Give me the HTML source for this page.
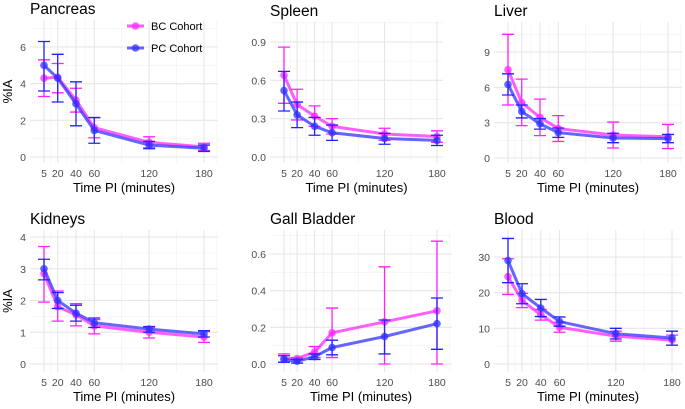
<!DOCTYPE html>
<html><head><meta charset="utf-8"><style>
body{margin:0;background:#fff;font-family:"Liberation Sans",sans-serif}
svg text{font-family:"Liberation Sans",sans-serif}
</style></head><body>
<svg id="chart" width="685" height="404" xmlns="http://www.w3.org/2000/svg"></svg>
<script>
const times=[5,20,40,60,120,180];
const panelNames=["Pancreas","Spleen","Liver","Kidneys","Gall Bladder","Blood"];
const bcMean=[[4.3,4.35,3.1,1.6,0.8,0.55],[0.64,0.41,0.32,0.24,0.18,0.16],[7.5,4.7,3.45,2.5,1.95,1.8],[2.85,1.8,1.55,1.2,1.0,0.85],[0.03,0.03,0.065,0.17,0.23,0.29],[24.5,17.8,13.8,10.3,7.8,6.7]];
const bcLow=[[3.3,3.5,2.45,1.05,0.5,0.35],[0.42,0.29,0.24,0.18,0.13,0.115],[4.5,2.75,1.9,1.4,0.85,0.8],[1.95,1.35,1.2,0.95,0.82,0.68],[0.01,0.025,0.035,0.035,0,0],[19.5,15.8,12.3,8.9,6.4,5.3]];
const bcHigh=[[5.3,5.1,3.75,2.15,1.1,0.75],[0.86,0.53,0.40,0.30,0.225,0.205],[10.5,6.7,5.0,3.6,3.05,2.85],[3.7,2.3,1.9,1.4,1.15,1.02],[0.055,0.035,0.095,0.305,0.53,0.67],[29.5,19.8,15.3,11.7,9.2,8.1]];
const pcMean=[[5.0,4.3,2.9,1.45,0.65,0.48],[0.52,0.33,0.24,0.19,0.145,0.13],[6.25,3.95,2.9,2.15,1.7,1.65],[3.0,2.0,1.6,1.3,1.1,0.95],[0.025,0.015,0.04,0.09,0.15,0.22],[29,19.7,15.7,11.9,8.5,7.3]];
const pcLow=[[3.6,3.0,1.7,0.75,0.45,0.3],[0.36,0.23,0.17,0.13,0.10,0.09],[5.35,3.4,2.45,1.75,1.3,1.3],[2.65,1.75,1.35,1.15,1.0,0.85],[0.01,0.005,0.025,0.05,0.055,0.08],[22.8,16.9,13.3,10.6,7.0,5.3]];
const pcHigh=[[6.3,5.6,4.1,2.15,0.85,0.65],[0.67,0.43,0.31,0.25,0.185,0.17],[7.15,4.5,3.35,2.55,2.1,2.0],[3.3,2.25,1.85,1.45,1.18,1.05],[0.045,0.025,0.055,0.13,0.24,0.36],[35.2,22.5,18.1,13.2,10.0,9.2]];
const yTicks=[[0,2,4,6],[0,0.3,0.6,0.9],[0,3,6,9],[0,1,2,3,4],[0,0.2,0.4,0.6],[0,10,20,30]];
const yTickLabels=[["0","2","4","6"],["0.0","0.3","0.6","0.9"],["0","3","6","9"],["0","1","2","3","4"],["0.0","0.2","0.4","0.6"],["0","10","20","30"]];
const xTicks=[5,20,40,60,120,180];
const xMinor=[-12.5,12.5,30,50,90,150,194];

const geo=[
 {l:30,r:218,t:20,b:163,x5:44,x180:204,y0:157,yRef:47,yRefV:6},
 {l:270,r:443,t:22,b:163,x5:284,x180:437,y0:157,yRef:42,yRefV:0.9},
 {l:494,r:682,t:22,b:163,x5:508,x180:668,y0:158,yRef:52,yRefV:9},
 {l:30,r:218,t:230,b:372,x5:44,x180:204,y0:364,yRef:237,yRefV:4},
 {l:270,r:452,t:230,b:372,x5:284,x180:437,y0:364,yRef:254,yRefV:0.6},
 {l:494,r:682,t:230,b:372,x5:508,x180:672,y0:364,yRef:257,yRefV:30}
];
const svg=document.getElementById('chart');
const NS="http://www.w3.org/2000/svg";
function mk(tag,attrs,parent){const e=document.createElementNS(NS,tag);for(const k in attrs)e.setAttribute(k,attrs[k]);(parent||svg).appendChild(e);return e;}
const BC="rgba(255,40,255,0.75)",PC="rgba(50,50,255,0.75)";
const BCs="#ff22ff",PCs="#2222ff";
geo.forEach((g,p)=>{
 const grp=mk('g',{});
 
 
 const xs=v=>g.x5+(v-5)*(g.x180-g.x5)/175;
 const ys=v=>g.y0-v*(g.y0-g.yRef)/g.yRefV;
 xMinor.forEach(m=>{const x=xs(m);if(x>=g.l&&x<=g.r){const ln=mk('line',{x1:x,x2:x,y1:g.t,y2:g.b,stroke:'#f0f0f0','stroke-width':0.6},grp);}});
 const yt=yTicks[p];const step=yt[1]-yt[0];
 for(let i=-1;i<yt.length+1;i++){const v=yt[0]+step*(i+0.5);const y=ys(v);if(y>=g.t&&y<=g.b){const ln=mk('line',{x1:g.l,x2:g.r,y1:y,y2:y,stroke:'#f0f0f0','stroke-width':0.6},grp);}}
 xTicks.forEach(t=>{const x=xs(t);const ln=mk('line',{x1:x,x2:x,y1:g.t,y2:g.b,stroke:'#e6e6e6','stroke-width':1.1},grp);
  const tx=mk('text',{x:x,y:g.b+14,'text-anchor':'middle','font-size':10.5,fill:'#4d4d4d'},grp);tx.textContent=t;});
 yt.forEach((t,i)=>{const y=ys(t);const ln=mk('line',{x1:g.l,x2:g.r,y1:y,y2:y,stroke:'#e6e6e6','stroke-width':1.1},grp);
  const tx=mk('text',{x:g.l-4,y:y+4,'text-anchor':'end','font-size':10.5,fill:'#4d4d4d'},grp);tx.textContent=yTickLabels[p][i];});
 const ti=mk('text',{x:g.l,y:g.t-6,'font-size':15.5,fill:'#000'},grp);ti.textContent=panelNames[p];
 const xl=mk('text',{x:(g.l+g.r)/2,y:g.b+29,'text-anchor':'middle','font-size':13,fill:'#000'},grp);xl.textContent='Time PI (minutes)';
 if(p%3===0){const yl=mk('text',{x:0,y:0,'text-anchor':'middle','font-size':13,fill:'#000',transform:`translate(12,${(g.t+g.b)/2}) rotate(-90)`},grp);yl.textContent='%IA';}
 [[bcMean,bcLow,bcHigh,BC,BCs,'bc'],[pcMean,pcLow,pcHigh,PC,PCs,'pc']].forEach(([m,lo,hi,c,cs,nm])=>{
  const pts=times.map((t,i)=>xs(t)+','+ys(m[p][i])).join(' ');
  const pl=mk('polyline',{points:pts,fill:'none',stroke:c,'stroke-width':3,'stroke-linejoin':'round'},grp);
  times.forEach((t,i)=>{const x=xs(t),y1=ys(lo[p][i]),y2=ys(hi[p][i]);
   const eb=mk('path',{d:`M${x-6},${y1}H${x+6}M${x-6},${y2}H${x+6}M${x},${y1}V${y2}`,stroke:cs,'stroke-width':1.3,fill:'none'},grp);
   const pt=mk('circle',{cx:x,cy:ys(m[p][i]),r:3.8,fill:c},grp);});
 });
});
const lg=mk('g',{});
[['BC Cohort',BC,26],['PC Cohort',PC,48]].forEach(([t,c,y])=>{
 const e=mk('g',{},lg);
 mk('line',{x1:127,x2:144,y1:y,y2:y,stroke:c,'stroke-width':3},e);
 mk('circle',{cx:135.5,cy:y,r:3.8,fill:c},e);
 const tx=mk('text',{x:151,y:y+4,'font-size':11,fill:'#000'},e);tx.textContent=t;
});
</script>
</body></html>
